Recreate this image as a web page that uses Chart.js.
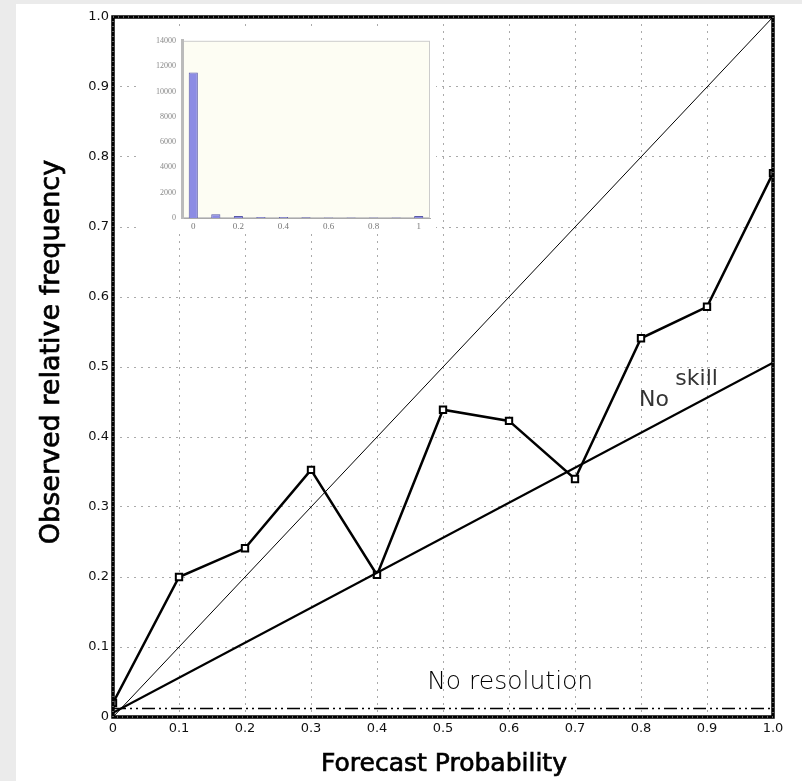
<!DOCTYPE html>
<html>
<head>
<meta charset="utf-8">
<script src="https://cdn.jsdelivr.net/npm/chart.js@4.4.1/dist/chart.umd.min.js"></script>
<style>
  html, body { margin: 0; padding: 0; background: #ebebeb; }
  #page { position: relative; width: 802px; height: 781px; overflow: hidden; }
  #panel { position: absolute; left: 16px; top: 4px; width: 786px; height: 777px; background: #fff; }
  #mainChart { position: absolute; left: 0; top: 0; }
  #histChart { position: absolute; left: 140px; top: 30px; background: #fff; }
</style>
</head>
<body>
<div id="page">
  <div id="panel"></div>
  <canvas id="mainChart" width="802" height="781"></canvas>
  <canvas id="histChart" width="296" height="204"></canvas>
</div>
<script>
// ---------- Reliability data ----------
const forecastProb = [0, 0.1, 0.2, 0.3, 0.4, 0.5, 0.6, 0.7, 0.8, 0.9, 1.0];
const observedFreq = [0.02, 0.20, 0.241, 0.353, 0.203, 0.439, 0.423, 0.340, 0.541, 0.586, 0.777];

// reference lines (end points in data units)
const lineEndsX = [0, 1];
const perfectY = [0, 1];
const noSkillY = [0.006, 0.506];
const noResolutionY = [0.012, 0.012];

const axisTickLabels = ['0', '0.1', '0.2', '0.3', '0.4', '0.5', '0.6', '0.7', '0.8', '0.9', '1.0'];

// ---------- Forecast count histogram (inset) ----------
const histBins = ['0', '0.1', '0.2', '0.3', '0.4', '0.5', '0.6', '0.7', '0.8', '0.9', '1'];
const histCounts = [11500, 290, 150, 80, 70, 50, 40, 30, 30, 30, 150];
const histTickLabels = ['0', '', '0.2', '', '0.4', '', '0.6', '', '0.8', '', '1'];

const pts = (xs, ys) => xs.map((x, i) => ({ x: x, y: ys[i] }));

// thick frame around the plot, with the light minor-tick dashes inside it
const framePlugin = {
    id: 'frame',
    afterDraw(chart) {
        const { ctx, chartArea: a } = chart;
        ctx.save();
        ctx.strokeStyle = '#000';
        ctx.lineWidth = 3.5;
        ctx.strokeRect(a.left, a.top, a.right - a.left, a.bottom - a.top);
        ctx.strokeStyle = '#bbb';
        ctx.lineWidth = 1;
        ctx.setLineDash([1, 4]);
        ctx.strokeRect(a.left, a.top, a.right - a.left, a.bottom - a.top);
        ctx.restore();
    }
};

// axis titles, drawn slightly heavier than the regular face
const axisTitlePlugin = {
    id: 'axisTitles',
    afterDraw(chart) {
        const { ctx, chartArea: a } = chart;
        ctx.save();
        ctx.fillStyle = '#000';
        ctx.strokeStyle = '#000';
        ctx.lineWidth = 0.7;
        ctx.textAlign = 'center';
        ctx.textBaseline = 'middle';
        ctx.font = '25px "DejaVu Sans"';
        ctx.fillText('Forecast Probability', (a.left + a.right) / 2 + 1, 764);
        ctx.strokeText('Forecast Probability', (a.left + a.right) / 2 + 1, 764);
        ctx.translate(52, 352);
        ctx.rotate(-Math.PI / 2);
        ctx.font = '27px "DejaVu Sans"';
        ctx.fillText('Observed relative frequency', 0, 0);
        ctx.strokeText('Observed relative frequency', 0, 0);
        ctx.restore();
    }
};

// "No resolution" and "No skill" labels
const labelPlugin = {
    id: 'lineLabels',
    afterDatasetsDraw(chart) {
        const { ctx, scales: { x, y } } = chart;
        ctx.save();
        ctx.fillStyle = '#000';
        ctx.textBaseline = 'middle';
        ctx.textAlign = 'left';
        ctx.font = '200 25px "DejaVu Sans"';
        ctx.fillText('No resolution', x.getPixelForValue(0.476), y.getPixelForValue(0.049));
        ctx.fillStyle = '#333';
        ctx.font = '22px "DejaVu Sans"';
        ctx.fillText('No', x.getPixelForValue(0.797), y.getPixelForValue(0.453));
        ctx.fillText('skill', x.getPixelForValue(0.852), y.getPixelForValue(0.482));
        ctx.restore();
    }
};

const gridStyle = {
    color: '#aaa',
    lineWidth: 1,
    drawTicks: false
};

const mainChart = new Chart(document.getElementById('mainChart'), {
    type: 'scatter',
    data: {
        datasets: [
            {
                data: pts(lineEndsX, perfectY),
                showLine: true,
                borderColor: '#000',
                borderWidth: 1,
                pointRadius: 0
            },
            {
                data: pts(lineEndsX, noSkillY),
                showLine: true,
                borderColor: '#000',
                borderWidth: 2.2,
                pointRadius: 0
            },
            {
                data: pts(lineEndsX, noResolutionY),
                showLine: true,
                borderColor: '#000',
                borderWidth: 1.5,
                borderDash: [13, 4, 2, 4, 2, 4],
                pointRadius: 0
            },
            {
                data: pts(forecastProb, observedFreq),
                showLine: true,
                borderColor: '#000',
                borderWidth: 2.5,
                pointStyle: 'rect',
                pointRadius: 4.5,
                pointBorderWidth: 2,
                pointBackgroundColor: '#fff',
                pointBorderColor: '#000'
            }
        ]
    },
    options: {
        responsive: false,
        animation: false,
        layout: { padding: { left: 0, right: 29, top: 17, bottom: 0 } },
        plugins: { legend: { display: false }, tooltip: { enabled: false } },
        scales: {
            x: {
                type: 'linear',
                min: 0,
                max: 1,
                afterFit: (s) => { s.height = 64; },
                afterBuildTicks: (s) => { s.ticks = forecastProb.map(v => ({ value: v })); },
                grid: gridStyle,
                border: { display: false, dash: [2, 5] },
                ticks: {
                    padding: 4,
                    color: '#111',
                    font: { family: 'DejaVu Sans', size: 13 },
                    maxRotation: 0,
                    callback: (v, i) => axisTickLabels[i]
                }
            },
            y: {
                type: 'linear',
                min: 0,
                max: 1,
                afterFit: (s) => { s.width = 113; },
                afterBuildTicks: (s) => { s.ticks = forecastProb.map(v => ({ value: v })); },
                grid: gridStyle,
                border: { display: false, dash: [2, 5] },
                ticks: {
                    padding: 4,
                    color: '#111',
                    font: { family: 'DejaVu Sans', size: 13 },
                    callback: (v, i) => axisTickLabels[i]
                }
            }
        }
    },
    plugins: [framePlugin, labelPlugin, axisTitlePlugin]
});

// pale plot background for the histogram
const plotBgPlugin = {
    id: 'plotBg',
    beforeDraw(chart) {
        const { ctx, chartArea: a } = chart;
        ctx.save();
        ctx.fillStyle = '#fdfdf3';
        ctx.fillRect(a.left, a.top, a.right - a.left, a.bottom - a.top);
        ctx.strokeStyle = '#ccc';
        ctx.lineWidth = 1;
        ctx.strokeRect(a.left + 0.5, a.top + 0.5, a.right - a.left - 1, a.bottom - a.top - 1);
        ctx.restore();
    }
};

const histChart = new Chart(document.getElementById('histChart'), {
    type: 'bar',
    data: {
        labels: histBins,
        datasets: [{
            data: histCounts,
            backgroundColor: '#8c8ce4',
            borderColor: '#5a5aa8',
            borderWidth: 1,
            barPercentage: 0.45,
            categoryPercentage: 0.9
        }]
    },
    options: {
        responsive: false,
        animation: false,
        layout: { padding: { left: 0, right: 6, top: 10, bottom: 0 } },
        plugins: { legend: { display: false }, tooltip: { enabled: false } },
        scales: {
            x: {
                afterFit: (s) => { s.height = 16; },
                grid: { display: false, drawTicks: false },
                border: { color: '#aaa', width: 1 },
                ticks: {
                    autoSkip: false,
                    maxRotation: 0,
                    padding: 3,
                    color: '#777',
                    font: { family: 'Liberation Serif', size: 9 },
                    callback: (v, i) => histTickLabels[i]
                }
            },
            y: {
                min: 0,
                max: 14000,
                afterFit: (s) => { s.width = 42; },
                grid: { display: false, drawTicks: false },
                border: { color: '#bbb', width: 3 },
                ticks: {
                    stepSize: 2000,
                    padding: 6,
                    color: '#888',
                    font: { family: 'Liberation Serif', size: 8 },
                    callback: (v) => String(v)
                }
            }
        }
    },
    plugins: [plotBgPlugin]
});
</script>
</body>
</html>
